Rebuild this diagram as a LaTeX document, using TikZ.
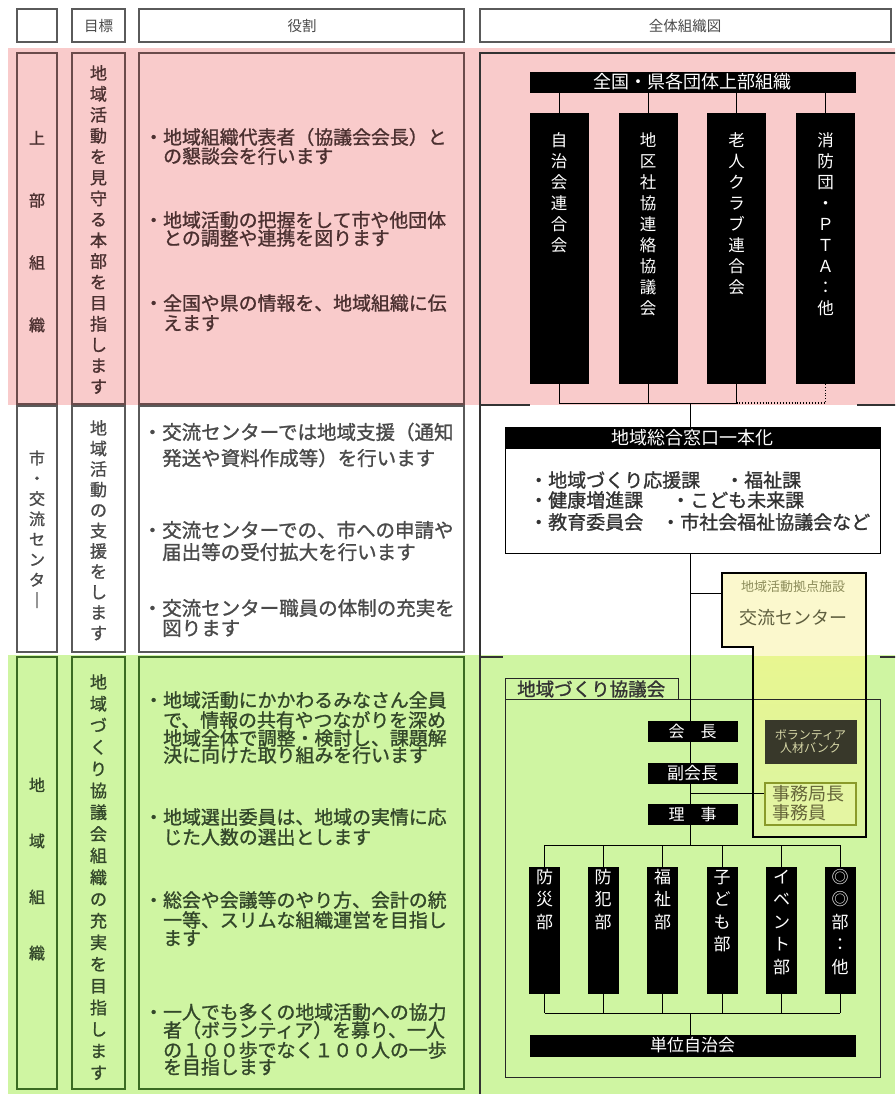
\documentclass[tikz,border=0pt]{standalone}
\usepackage{fontspec}
\newfontfamily\jp[BoldFont={Noto Sans CJK JP}, BoldFeatures={FakeBold=1.2}]{Noto Sans CJK JP}
\definecolor{pinkbg}{HTML}{F9CBCB}
\definecolor{greenbg}{HTML}{CFF5A2}
\definecolor{pinkline}{HTML}{6B4B4B}
\definecolor{greenline}{HTML}{3B6B22}
\definecolor{grayline}{HTML}{5A5A5A}
\definecolor{pinktext}{HTML}{4B3030}
\definecolor{graytext}{HTML}{4A4A4A}
\definecolor{greentext}{HTML}{33472A}
\definecolor{kcpale}{HTML}{FBF8CD}
\definecolor{kcyel}{HTML}{E8F690}
\definecolor{kcgrn}{HTML}{DAF4A4}
\definecolor{kctext}{HTML}{5E5E3E}
\definecolor{kcsubtext}{HTML}{8C8C5A}
\definecolor{volbg}{HTML}{38382A}
\definecolor{voltext}{HTML}{D8D8A8}
\definecolor{jimuline}{HTML}{8A9A2A}
\definecolor{jimubg}{HTML}{E4F5A2}
\definecolor{jimutext}{HTML}{66663A}
% vertical text: x, centre y of first char, step, size, colour, list
\newcommand\vtext[6]{%
  \foreach \c [count=\i from 0] in {#6}{%
    \node[anchor=base, inner sep=0, text=#5, font=\jp\bfseries\fontsize{#4}{#4}\selectfont] at (#1, {#2+\i*#3+0.38*#4}) {\c};}}
% vertical text, regular weight
\newcommand\vtextr[6]{%
  \foreach \c [count=\i from 0] in {#6}{%
    \node[anchor=base, inner sep=0, text=#5, font=\jp\fontsize{#4}{#4}\selectfont] at (#1, {#2+\i*#3+0.38*#4}) {\c};}}
% horizontal text line: left x, centre y, size, colour, text
\newcommand\htext[5]{%
  \node[anchor=base west, inner sep=0, text=#4, font=\jp\bfseries\fontsize{#3}{#3}\selectfont] at (#1, {#2+0.38*#3}) {#5};}
\newcommand\htextr[5]{%
  \node[anchor=base west, inner sep=0, text=#4, font=\jp\fontsize{#3}{#3}\selectfont] at (#1, {#2+0.38*#3}) {#5};}
\begin{document}
\begin{tikzpicture}[x=1pt,y=-1pt,
  blk/.style={fill=black, draw=black, inner sep=0, text=white},
  conn/.style={draw=black, line width=0.9pt},
  hdr/.style={draw=grayline, line width=1.6pt, fill=white},
  pbox/.style={draw=pinkline, line width=1.6pt},
  wbox/.style={draw=grayline, line width=1.6pt},
  gbox/.style={draw=greenline, line width=1.6pt},
  panel/.style={draw=black!80, line width=1.2pt},
  frame/.style={draw=black!85, line width=1pt}]
\useasboundingbox (0,0) rectangle (895,1094);
\clip (0,0) rectangle (895,1094);
\fill[white] (0,0) rectangle (895,1094);
% bands
\fill[pinkbg] (8,48) rectangle (895,405);
\fill[greenbg] (8,655) rectangle (895,1094);
% header row
\draw[hdr] (17,9) rectangle (57,42);
\draw[hdr] (72,9) rectangle (125,42);
\draw[hdr] (139,9) rectangle (464,42);
\draw[hdr] (480,9) rectangle (891,42);
\node[text=graytext, font=\jp\fontsize{14.5}{14.5}\selectfont] (h1) at (98.5,26) {目標};
\node[text=graytext, font=\jp\fontsize{14.5}{14.5}\selectfont] (h2) at (302,26) {役割};
\node[text=graytext, font=\jp\fontsize{14.5}{14.5}\selectfont] (h3) at (685,26) {全体組織図};
% section boxes
\draw[pbox] (17,53) rectangle (57,404);
\draw[pbox] (72,53) rectangle (125,404);
\draw[pbox] (139,53) rectangle (464,404);
\draw[wbox] (17,406) rectangle (57,652);
\draw[wbox] (72,406) rectangle (125,652);
\draw[wbox] (139,406) rectangle (464,652);
\draw[gbox] (17,657) rectangle (57,1089);
\draw[gbox] (72,657) rectangle (125,1089);
\draw[gbox] (139,657) rectangle (464,1089);
% left column texts
\vtext{37}{138}{62.3}{16}{pinktext}{上,部,組,織}
\vtext{98.5}{73}{20.9}{17}{pinktext}{地,域,活,動,を,見,守,る,本,部,を,目,指,し,ま,す}
\vtext{37}{458}{20.3}{16}{graytext}{市,・,交,流,セ,ン,タ,｜}
\vtext{98.5}{428}{20.5}{17}{graytext}{地,域,活,動,の,支,援,を,し,ま,す}
\vtext{37}{785}{56}{16}{greentext}{地,域,組,織}
\vtext{98.5}{682}{21.7}{17}{greentext}{地,域,づ,く,り,協,議,会,組,織,の,充,実,を,目,指,し,ま,す}
% role texts, section 1
\htext{144}{137}{18.9}{pinktext}{・地域組織代表者（協議会会長）と}
\htext{163}{156}{18.9}{pinktext}{の懇談会を行います}
\htext{144}{220}{18.9}{pinktext}{・地域活動の把握をして市や他団体}
\htext{163}{238}{18.9}{pinktext}{との調整や連携を図ります}
\htext{144}{303}{18.9}{pinktext}{・全国や県の情報を、地域組織に伝}
\htext{163}{323}{18.9}{pinktext}{えます}
% section 2
\htext{142.5}{432}{19.5}{graytext}{・交流センターでは地域支援（通知}
\htext{162}{458}{19.5}{graytext}{発送や資料作成等）を行います}
\htext{142.5}{530}{19.5}{graytext}{・交流センターでの、市への申請や}
\htext{162}{552}{19.5}{graytext}{届出等の受付拡大を行います}
\htext{142.5}{608}{19.5}{graytext}{・交流センター職員の体制の充実を}
\htext{162}{628}{19.5}{graytext}{図ります}
% section 3
\htext{144}{700}{18.9}{greentext}{・地域活動にかかわるみなさん全員}
\htext{163}{720}{18.9}{greentext}{で、情報の共有やつながりを深め}
\htext{163}{738}{18.9}{greentext}{地域全体で調整・検討し、課題解}
\htext{163}{755}{18.9}{greentext}{決に向けた取り組みを行います}
\htext{144}{817}{18.9}{greentext}{・地域選出委員は、地域の実情に応}
\htext{163}{837}{18.9}{greentext}{じた人数の選出とします}
\htext{144}{900}{18.9}{greentext}{・総会や会議等のやり方、会計の統}
\htext{163}{920}{18.9}{greentext}{一等、スリムな組織運営を目指し}
\htext{163}{938}{18.9}{greentext}{ます}
\htext{144}{1012}{18.9}{greentext}{・一人でも多くの地域活動への協力}
\htext{163}{1030}{18.9}{greentext}{者（ボランティア）を募り、一人}
\htext{163}{1050}{18.9}{greentext}{の１００歩でなく１００人の一歩}
\htext{163}{1067}{18.9}{greentext}{を目指します}
% right panel borders
\draw[panel] (897,53) -- (480,53) -- (480,1094);
\draw[panel] (480,405) -- (530,405);
\draw[panel] (857,405) -- (897,405);
\draw[panel] (480,657) -- (503,657);
\draw[panel] (880,657) -- (897,657);
% upper organisation chart
\node[blk, minimum width=325, minimum height=20, font=\jp\fontsize{18}{18}\selectfont] (zenkoku) at (692.5,82) {全国・県各団体上部組織};
\node[blk, minimum width=58, minimum height=270, anchor=north] (u1) at (559,113) {};
\node[blk, minimum width=58, minimum height=270, anchor=north] (u2) at (648,113) {};
\node[blk, minimum width=58, minimum height=270, anchor=north] (u3) at (736.5,113) {};
\node[blk, minimum width=58, minimum height=270, anchor=north] (u4) at (825.5,113) {};
\vtextr{559}{140}{21}{16.5}{white}{自,治,会,連,合,会}
\vtextr{648}{140}{21}{16.5}{white}{地,区,社,協,連,絡,協,議,会}
\vtextr{736.5}{140}{21}{16.5}{white}{老,人,ク,ラ,ブ,連,合,会}
\vtextr{825.5}{140}{21}{16.5}{white}{消,防,団,・,Ｐ,Ｔ,Ａ,：,他}
\foreach \u in {u1,u2,u3,u4} {\draw[conn] (zenkoku.south -| \u) -- (\u.north);}
\coordinate (sp1) at (690,403);
\draw[conn] (u1.south) -- (u1.south |- sp1) -- (u3.south |- sp1) -- (u3.south);
\draw[conn] (u2.south) -- (u2.south |- sp1);
\draw[conn, dotted, line width=1.2pt] (u3.south |- sp1) -- (u4.south |- sp1) -- (u4.south);
% window box
\node[draw=black, fill=white, line width=1pt, minimum width=375, minimum height=126, inner sep=0] (mado) at (692.5,490) {};
\node[blk, minimum width=375, minimum height=21, anchor=north, font=\jp\fontsize{18}{18}\selectfont] (madohead) at (mado.north) {地域総合窓口一本化};
\htext{529}{480}{19}{black!80}{・地域づくり応援課}
\htext{725}{480}{19}{black!80}{・福祉課}
\htext{529}{500}{19}{black!80}{・健康増進課}
\htext{671}{500}{19}{black!80}{・こども未来課}
\htext{529}{522}{19}{black!80}{・教育委員会}
\htext{661}{522}{19}{black!80}{・市社会福祉協議会など}
\draw[conn] (sp1) -- (sp1 |- mado.north);
% exchange centre fill
\begin{scope}
  \clip (722,573) -- (866,573) -- (866,837) -- (753,837) -- (753,647) -- (722,647) -- cycle;
  \fill[kcpale] (715,565) rectangle (875,656);
  \shade[top color=kcyel, bottom color=kcgrn] (715,656) rectangle (875,845);
\end{scope}
% council frame
\draw[frame] (505,699) -- (505,678) -- (678,678) -- (678,699);
\draw[frame] (505,699) rectangle (880,1077);
\htext{517}{689}{18.5}{black!80}{地域づくり協議会}
% spine and branches
\coordinate (kc) at (722,593);
\coordinate (dbus) at (690,845);
\coordinate (bbus) at (690,1013);
\coordinate (jc) at (765,793);
\draw[conn] (mado.south -| sp1) -- (dbus);
\draw[conn] (sp1 |- kc) -- (kc);
\draw[conn] (sp1 |- jc) -- (jc);
% officers
\node[blk, minimum width=89, minimum height=20, font=\jp\fontsize{16}{16}\selectfont] (kaicho) at (692.5,731) {会　長};
\node[blk, minimum width=89, minimum height=20, font=\jp\fontsize{17}{17}\selectfont] (fuku) at (692.5,773) {副会長};
\node[blk, minimum width=89, minimum height=20, font=\jp\fontsize{16}{16}\selectfont] (riji) at (692.5,814) {理　事};
% departments
\node[blk, minimum width=30, minimum height=126, anchor=north] (d1) at (544.5,867) {};
\node[blk, minimum width=30, minimum height=126, anchor=north] (d2) at (603,867) {};
\node[blk, minimum width=30, minimum height=126, anchor=north] (d3) at (662.5,867) {};
\node[blk, minimum width=30, minimum height=126, anchor=north] (d4) at (722,867) {};
\node[blk, minimum width=30, minimum height=126, anchor=north] (d5) at (781.5,867) {};
\node[blk, minimum width=30, minimum height=126, anchor=north] (d6) at (840,867) {};
\vtextr{544.5}{877}{22.5}{17}{white}{防,災,部}
\vtextr{603}{877}{22.5}{17}{white}{防,犯,部}
\vtextr{662.5}{877}{22.5}{17}{white}{福,祉,部}
\vtextr{722}{877}{22.5}{17}{white}{子,ど,も,部}
\vtextr{781.5}{877}{22.5}{17}{white}{イ,ベ,ン,ト,部}
\vtextr{840}{877}{22.5}{17}{white}{◎,◎,部,：,他}
\draw[conn] (d1.north |- dbus) -- (d6.north |- dbus);
\foreach \d in {d1,d2,d3,d4,d5,d6} {\draw[conn] (\d.north |- dbus) -- (\d.north);}
\draw[conn] (d1.south |- bbus) -- (d6.south |- bbus);
\foreach \d in {d1,d2,d3,d4,d5,d6} {\draw[conn] (\d.south) -- (\d.south |- bbus);}
\node[blk, minimum width=325, minimum height=21, font=\jp\fontsize{17}{17}\selectfont] (tanni) at (692.5,1045.5) {単位自治会};
\draw[conn] (bbus) -- (tanni.north -| bbus);
% exchange centre outline and contents
\draw[black, line width=2.2pt, line join=miter] (722,573) -- (866,573) -- (866,837) -- (753,837) -- (753,647) -- (722,647) -- cycle;
\node[text=kcsubtext, font=\jp\fontsize{13}{13}\selectfont, inner sep=0] (kcsub) at (793,587) {地域活動拠点施設};
\node[text=kctext, font=\jp\fontsize{18}{18}\selectfont, inner sep=0] (kcname) at (793,618) {交流センター};
\node[fill=volbg, draw=volbg, minimum width=91, minimum height=43, inner sep=0, align=center, text=voltext, font=\jp\fontsize{12}{13}\selectfont] (vol) at (810.5,741.5) {ボランティア\\人材バンク};
\node[draw=jimuline, fill=jimubg, line width=1.2pt, minimum width=91, minimum height=42, inner sep=0] (jimu) at (810.5,804) {};
\htextr{772}{794}{18}{jimutext}{事務局長}
\htextr{772}{813}{18}{jimutext}{事務員}
\end{tikzpicture}
\end{document}
